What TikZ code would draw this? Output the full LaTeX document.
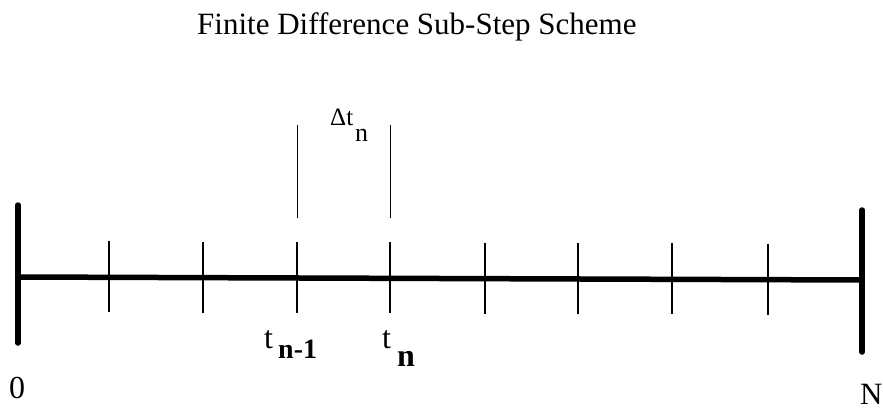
\documentclass[tikz,border=0pt]{standalone}
\usepackage{fontspec}
\setmainfont{Liberation Serif}
\begin{document}
\begin{tikzpicture}[x=1pt,y=-1pt,
  axisline/.style={line width=5.5pt},
  endbar/.style={line width=5.5pt,line cap=round},
  tickline/.style={line width=2.8pt},
  guide/.style={line width=0.9pt},
  lbl/.style={inner sep=0pt,anchor=base west}]
\useasboundingbox (0,0) rectangle (883,409);
% title
\node[lbl] (title) at (197,35) {\fontsize{31}{36}\selectfont Finite Difference Sub-Step Scheme};
% axis end points
\coordinate (L) at (18,277);
\coordinate (R) at (862,280);
\coordinate (Ltop) at (18,205);
\coordinate (Lbot) at (18,343);
\coordinate (Rtop) at (862,210);
\coordinate (Rbot) at (862,352);
\draw[axisline] (L) -- (R);
\draw[endbar] (Ltop) -- (Lbot);
\draw[endbar] (Rtop) -- (Rbot);
% ticks
\foreach \i/\x in {1/109,2/203,3/297,4/390,5/485,6/578,7/672,8/768}{
  \pgfmathsetmacro{\yc}{277+3*(\x-18)/844}
  \coordinate (t\i top) at (\x,\yc-36);
  \coordinate (t\i bot) at (\x,\yc+35);
  \draw[tickline] (t\i top) -- (t\i bot);
}
% guide lines for delta t
\coordinate (g1a) at (297,125);
\coordinate (g1b) at (297,218);
\coordinate (g2a) at (390,125);
\coordinate (g2b) at (390,218);
\draw[guide] (g1a) -- (g1b);
\draw[guide] (g2a) -- (g2b);
\node[lbl] (dt) at (330,125) {\fontsize{25}{30}\selectfont Δt};
\node[lbl] (dtn) at (355,142) {\fontsize{26}{30}\selectfont n};
% labels on axis
\node[lbl] (tnm1) at (264,348) {\fontsize{32}{36}\selectfont t};
\node[lbl] (tnm1s) at (278,358) {\fontsize{28}{32}\selectfont\bfseries n-1};
\node[lbl] (tn) at (382,348) {\fontsize{32}{36}\selectfont t};
\node[lbl] (tns) at (397,366) {\fontsize{32}{36}\selectfont\bfseries n};
\node[lbl] (zero) at (9,398) {\fontsize{32}{36}\selectfont 0};
\node[lbl] (Nlab) at (860,404) {\fontsize{31}{36}\selectfont N};
\end{tikzpicture}
\end{document}
